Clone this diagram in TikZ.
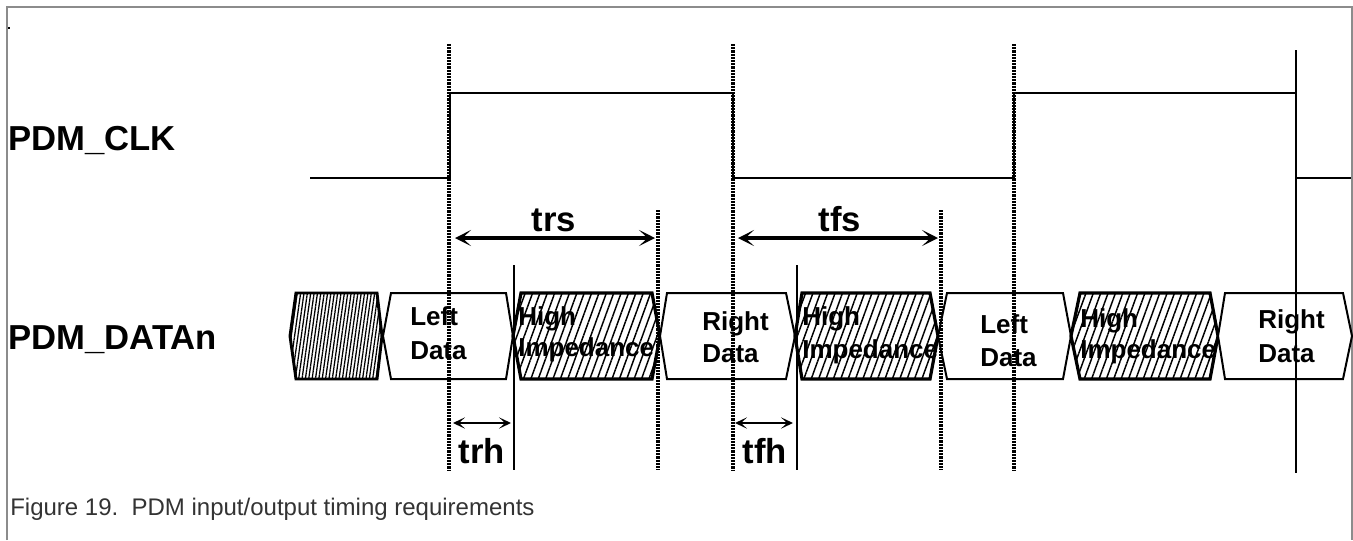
\documentclass[tikz,border=0pt]{standalone}
\usepackage{fontspec}
\setmainfont{Liberation Sans}
\usetikzlibrary{arrows.meta,patterns.meta}
\definecolor{frame}{HTML}{8C8C8C}
\definecolor{captxt}{HTML}{333333}
\tikzset{
  sig/.style={line width=1.9pt,line join=miter},
  vdot/.style={line width=2.6pt,dash pattern=on 1.6pt off 0.8pt},
  vsolid/.style={line width=1.3pt},
  vsolidthick/.style={line width=1.9pt},
  blk/.style={line width=1.5pt,line join=miter,fill=white},
  hiz/.style={line width=2.4pt,line join=miter,pattern={Lines[angle=70,distance=5.2pt,line width=1.1pt]}},
  dense/.style={line width=2.2pt,line join=miter,pattern={Lines[angle=82,distance=2.5pt,line width=0.95pt]}},
  cell/.style={font=\fontsize{19.5pt}{19.5pt}\selectfont\bfseries,inner sep=0pt,anchor=base west},
  big/.style={font=\fontsize{26pt}{26pt}\selectfont\bfseries,inner sep=0pt},
  bigarrow/.style={line width=3.4pt,{Stealth[length=12pt,width=12pt,inset=6.5pt]}-{Stealth[length=12pt,width=12pt,inset=6.5pt]}},
  smallarrow/.style={line width=1.8pt,{Stealth[length=9pt,width=8.5pt,inset=4.5pt]}-{Stealth[length=9pt,width=8.5pt,inset=4.5pt]}},
}
\newcommand{\hexblk}[5]{%
  \draw[#5] (#1,336) -- (#2,293) -- (#3,293) -- (#4,336) -- (#3,379) -- (#2,379) -- cycle;}
\begin{document}
\begin{tikzpicture}[x=0.75pt,y=-0.75pt]
\useasboundingbox (0,0) rectangle (1353,540);
% frame
\draw[frame,line width=1.2pt] (7,540) -- (7,7) -- (1352,7) -- (1352,540);
\fill (7.5,26.5) rectangle (9.5,28.5);

% labels
\node[big,anchor=base west] (clk) at (8,150) {PDM\_CLK};
\node[big,anchor=base west] (dat) at (8,349) {PDM\_DATAn};

% clock
\coordinate (c0) at (310,178);
\coordinate (c1) at (450,178);
\coordinate (c2) at (450,93);
\coordinate (c3) at (733,93);
\coordinate (c4) at (733,178);
\coordinate (c5) at (1014,178);
\coordinate (c6) at (1014,93);
\coordinate (c7) at (1296,93);
\coordinate (c8) at (1296,178);
\coordinate (c9) at (1351,178);
\draw[sig] (c0) -- (c1) -- (c2) -- (c3) -- (c4) -- (c5) -- (c6) -- (c7) -- (c8) -- (c9);

% data blocks
\hexblk{290}{296}{377}{382}{dense}
\hexblk{383}{391}{506}{513}{blk}
\hexblk{513}{521}{652}{660}{hiz}
\hexblk{660}{667}{786}{795}{blk}
\hexblk{795}{802}{930}{938}{hiz}
\hexblk{938}{947}{1063}{1071}{blk}
\hexblk{1071}{1080}{1210}{1218}{hiz}
\hexblk{1218}{1225}{1343}{1352}{blk}

% block texts
\node[cell] (l1a) at (410,325) {Left};
\node[cell] (l1b) at (410,359) {Data};
\node[cell] (h1a) at (518,325) {High};
\node[cell] (h1b) at (518,356) {Impedance};
\node[cell] (r1a) at (702,330) {Right};
\node[cell] (r1b) at (702,362) {Data};
\node[cell] (h2a) at (802,325) {High};
\node[cell] (h2b) at (802,358) {Impedance};
\node[cell] (l2a) at (980,333) {Left};
\node[cell] (l2b) at (980,366) {Data};
\node[cell] (h3a) at (1080,327) {High};
\node[cell] (h3b) at (1080,358) {Impedance};
\node[cell] (r2a) at (1258,328) {Right};
\node[cell] (r2b) at (1258,362) {Data};

% vertical reference lines
\coordinate (d1t) at (449,44);  \coordinate (d1b) at (449,470);
\coordinate (d2t) at (733,44);  \coordinate (d2b) at (733,470);
\coordinate (d3t) at (1014,44); \coordinate (d3b) at (1014,470);
\coordinate (d4t) at (658,210); \coordinate (d4b) at (658,470);
\coordinate (d5t) at (941,210); \coordinate (d5b) at (941,470);
\coordinate (s1t) at (514,265); \coordinate (s1b) at (514,470);
\coordinate (s2t) at (797,265); \coordinate (s2b) at (797,470);
\coordinate (s3t) at (1296,50); \coordinate (s3b) at (1296,473);
\draw[vdot] (d1t) -- (d1b);
\draw[vdot] (d2t) -- (d2b);
\draw[vdot] (d3t) -- (d3b);
\draw[vdot] (d4t) -- (d4b);
\draw[vdot] (d5t) -- (d5b);
\draw[vsolid] (s1t) -- (s1b);
\draw[vsolid] (s2t) -- (s2b);
\draw[vsolidthick] (s3t) -- (s3b);

% timing arrows
\coordinate (trsA) at (455,238); \coordinate (trsB) at (655,238);
\coordinate (tfsA) at (738,238); \coordinate (tfsB) at (938,238);
\coordinate (trhA) at (453,423); \coordinate (trhB) at (511,423);
\coordinate (tfhA) at (735,423); \coordinate (tfhB) at (793,423);
\draw[bigarrow] (trsA) -- (trsB);
\draw[bigarrow] (tfsA) -- (tfsB);
\draw[smallarrow] (trhA) -- (trhB);
\draw[smallarrow] (tfhA) -- (tfhB);

\node[big,anchor=base] (trs) at (554,231) {trs};
\node[big,anchor=base] (tfs) at (840,231) {tfs};
\node[big,anchor=base] (trh) at (482,463) {trh};
\node[big,anchor=base] (tfh) at (765,463) {tfh};

% caption
\node[anchor=base west,inner sep=0pt,text=captxt,font=\fontsize{18pt}{18pt}\selectfont] (cap) at (10,515) {Figure 19.\ \ PDM input/output timing requirements};
\end{tikzpicture}
\end{document}
